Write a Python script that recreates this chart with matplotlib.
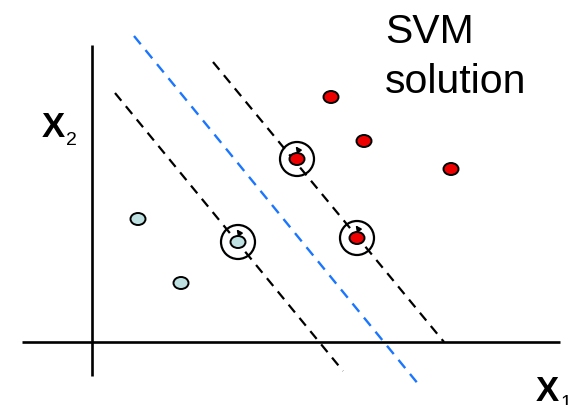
import matplotlib
matplotlib.use("Agg")
import matplotlib.pyplot as plt
from matplotlib.patches import Ellipse, Circle

plt.rcParams['font.family'] = ['Liberation Sans', 'DejaVu Sans']

# Canvas-space layout (pixels, y grows downward)
W, H = 574, 405

# Data points of the two classes
neg_x = [138, 181, 238]
neg_y = [219, 283, 242]
pos_x = [331, 364, 451, 297, 357]
pos_y = [97, 141, 169, 159, 238]

# Support vectors (circled)
sv_x = [238, 297, 357]
sv_y = [242, 159, 238]

# Margin lines and separating hyperplane (endpoints)
margin_lo = ([115, 343], [93, 371])
margin_hi = ([213, 444], [62, 342])
boundary = ([134, 419], [36, 385])

fig = plt.figure(figsize=(W / 100, H / 100), dpi=100)
ax = fig.add_axes([0, 0, 1, 1])
ax.set_xlim(0, W)
ax.set_ylim(H, 0)
ax.axis('off')

# Coordinate axes
ax.plot([22, 560], [342, 342], color='black', lw=1.9, solid_capstyle='butt')
ax.plot([92, 92], [45, 376], color='black', lw=1.9, solid_capstyle='butt')

# Dashed lines
dash = (0, (4.5, 3.2))
ax.plot(*margin_lo, color='black', lw=1.6, ls=dash)
ax.plot(*margin_hi, color='black', lw=1.6, ls=dash)
ax.plot(*boundary, color='#1a75ff', lw=1.7, ls=dash)

# Points
for x, y in zip(neg_x, neg_y):
    ax.add_patch(Ellipse((x, y), 15, 12, facecolor='#bfe0e0', edgecolor='black', lw=1.4, zorder=5))
for x, y in zip(pos_x, pos_y):
    ax.add_patch(Ellipse((x, y), 15, 12, facecolor='#ee0000', edgecolor='black', lw=1.4, zorder=5))

# Circles around support vectors, with small tick arrows along the margin
for x, y in zip(sv_x, sv_y):
    ax.add_patch(Circle((x, y), 17, facecolor='none', edgecolor='black', lw=1.6, zorder=6))
    ax.annotate('', xy=(x - 3, y - 15), xytext=(x + 2, y - 8),
                arrowprops=dict(arrowstyle='-|>', color='black', lw=1.2,
                                mutation_scale=8), zorder=7)

# Texts
ax.text(385, 43, 'SVM', fontsize=29.5, ha='left', va='baseline')
ax.text(385, 93, 'solution', fontsize=29.5, ha='left', va='baseline')
ax.text(42, 137, 'X', fontsize=25, fontweight='bold', ha='left', va='baseline')
ax.text(66, 145, '2', fontsize=14, ha='left', va='baseline')
ax.text(536, 401, 'X', fontsize=25, fontweight='bold', ha='left', va='baseline')
ax.text(561, 408, '1', fontsize=14, ha='left', va='baseline')

fig.savefig('out.png', dpi=100)
